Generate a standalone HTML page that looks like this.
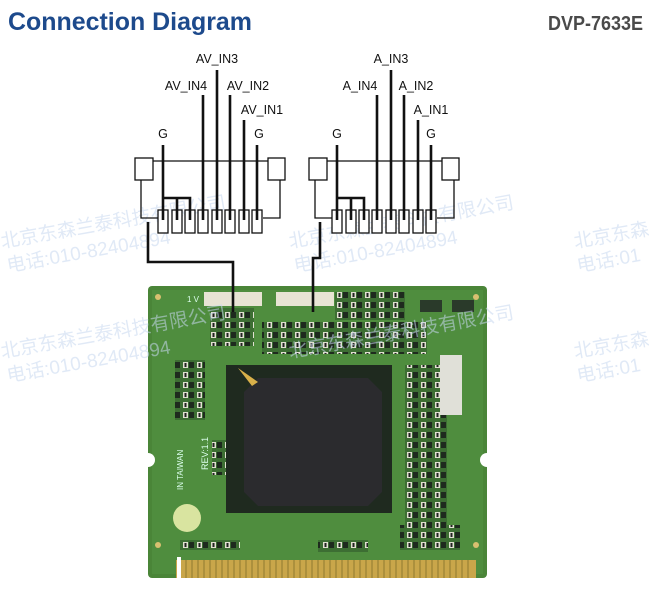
<!DOCTYPE html>
<html><head><meta charset="utf-8"><style>
html,body{margin:0;padding:0;background:#fff;width:649px;height:590px;overflow:hidden}
</style></head><body>
<svg width="649" height="590" viewBox="0 0 649 590" xmlns="http://www.w3.org/2000/svg" font-family="Liberation Sans, sans-serif">
<defs>
<pattern id="smd" width="14" height="10" patternUnits="userSpaceOnUse">
<rect width="14" height="10" fill="#3d6e33"/>
<rect x="1" y="2" width="5" height="6" fill="#e0e0d0"/><rect x="2.5" y="3" width="2" height="4" fill="#222"/>
<rect x="7" y="2" width="5" height="6" fill="#1e2a1e"/>
</pattern>
</defs>
<text x="8" y="30" font-size="25" font-weight="bold" fill="#1d4a8c" textLength="244" lengthAdjust="spacingAndGlyphs">Connection Diagram</text>
<text x="548" y="30" font-size="20" font-weight="bold" fill="#4a4a4a" textLength="95" lengthAdjust="spacingAndGlyphs">DVP-7633E</text>

<!-- board -->
<rect x="148" y="286" width="339" height="292" rx="4" fill="#4a8538"/>
<rect x="152" y="290" width="331" height="284" fill="#4f8d3e"/>
<rect x="176" y="560" width="300" height="18" fill="#c9a64a"/>
<g stroke="#8f7a30" stroke-width="1">
<path d="M180 560v18M186 560v18M192 560v18M198 560v18M204 560v18M210 560v18M216 560v18M222 560v18M228 560v18M234 560v18M240 560v18M246 560v18M252 560v18M258 560v18M264 560v18M270 560v18M276 560v18M282 560v18M288 560v18M294 560v18M300 560v18M306 560v18M312 560v18M318 560v18M324 560v18M330 560v18M336 560v18M342 560v18M348 560v18M354 560v18M360 560v18M366 560v18M372 560v18M378 560v18M384 560v18M390 560v18M396 560v18M402 560v18M408 560v18M414 560v18M420 560v18M426 560v18M432 560v18M438 560v18M444 560v18M450 560v18M456 560v18M462 560v18M468 560v18"/>
</g>
<rect x="177" y="557" width="4" height="22" fill="#fff"/>
<circle cx="148" cy="460" r="7" fill="#fff"/><circle cx="487" cy="460" r="7" fill="#fff"/>
<circle cx="158" cy="297" r="3" fill="#d9c070"/><circle cx="476" cy="297" r="3" fill="#d9c070"/>
<circle cx="158" cy="545" r="3" fill="#d9c070"/><circle cx="476" cy="545" r="3" fill="#d9c070"/>
<rect x="204" y="292" width="58" height="14" fill="#e8e4d4"/>
<rect x="276" y="292" width="58" height="14" fill="#e8e4d4"/>
<rect x="210" y="308" width="44" height="38" fill="url(#smd)"/>
<rect x="262" y="322" width="165" height="32" fill="url(#smd)"/>
<rect x="335" y="292" width="70" height="28" fill="url(#smd)"/>
<rect x="175" y="360" width="30" height="60" fill="url(#smd)"/>
<rect x="405" y="365" width="42" height="165" fill="url(#smd)"/>
<rect x="212" y="440" width="24" height="35" fill="url(#smd)"/>
<rect x="180" y="540" width="60" height="10" fill="url(#smd)"/>
<rect x="318" y="540" width="50" height="12" fill="url(#smd)"/>
<rect x="400" y="525" width="60" height="25" fill="url(#smd)"/>
<rect x="440" y="355" width="22" height="60" fill="#e0e0d8"/>
<rect x="420" y="300" width="22" height="12" fill="#2a3a2a"/><rect x="452" y="300" width="22" height="12" fill="#2a3a2a"/>
<rect x="226" y="365" width="166" height="148" fill="#1f2a1f"/>
<path d="M258 378h110l14 14v100l-14 14h-110l-14-14v-100z" fill="#2b2b2e"/>
<path d="M238 368l14 18l6-4z" fill="#d9b04a"/>
<circle cx="187" cy="518" r="14" fill="#d9e4a0"/>
<text x="208" y="470" font-size="9" fill="#dfe" transform="rotate(-90 208 470)">REV:1.1</text>
<text x="183" y="490" font-size="8" fill="#dfe" transform="rotate(-90 183 490)">IN TAIWAN</text>
<text x="187" y="302" font-size="8" fill="#dfe">1 V</text>

<!-- watermarks -->
<g fill="#c8d8f0" font-size="19" font-family="Liberation Sans, Noto Sans CJK SC, sans-serif" opacity=".55">
<text x="2" y="248" transform="rotate(-10 2 248)">北京东森兰泰科技有限公司</text>
<text x="8" y="272" transform="rotate(-10 8 272)">电话:010-82404894</text>
<text x="290" y="248" transform="rotate(-10 290 248)">北京东森兰泰科技有限公司</text>
<text x="295" y="272" transform="rotate(-10 295 272)">电话:010-82404894</text>
<text x="2" y="358" transform="rotate(-10 2 358)">北京东森兰泰科技有限公司</text>
<text x="8" y="382" transform="rotate(-10 8 382)">电话:010-82404894</text>
<text x="290" y="358" transform="rotate(-10 290 358)">北京东森兰泰科技有限公司</text>
<text x="575" y="248" transform="rotate(-10 575 248)">北京东森</text>
<text x="578" y="272" transform="rotate(-10 578 272)">电话:01</text>
<text x="575" y="358" transform="rotate(-10 575 358)">北京东森</text>
<text x="578" y="382" transform="rotate(-10 578 382)">电话:01</text>
</g>

<!-- connectors -->
<g id="c1" fill="none" stroke="#111" stroke-width="1.3">
<rect x="135" y="158" width="18" height="22" fill="#fff"/>
<rect x="268" y="158" width="17" height="22" fill="#fff"/>
<path d="M153 161H268M141 180V218H158M280 180V218H263"/>
<g fill="#fff">
<rect x="158" y="210" width="10" height="23"/><rect x="172" y="210" width="10" height="23"/>
<rect x="185" y="210" width="10" height="23"/><rect x="198" y="210" width="10" height="23"/>
<rect x="212" y="210" width="10" height="23"/><rect x="225" y="210" width="10" height="23"/>
<rect x="239" y="210" width="10" height="23"/><rect x="252" y="210" width="10" height="23"/>
</g>
<g stroke-width="2.6">
<path d="M163 145V220M163 198H190V220M177 198V220M203 95V220M217 70V220M230 95V220M244 120V220M257 145V220"/>
</g>
</g>
<use href="#c1" x="174"/>
<g font-size="12.5" fill="#111" text-anchor="middle">
<text x="217" y="63">AV_IN3</text><text x="186" y="90">AV_IN4</text><text x="248" y="90">AV_IN2</text>
<text x="262" y="114">AV_IN1</text><text x="163" y="138">G</text><text x="259" y="138">G</text>
<text x="391" y="63">A_IN3</text><text x="360" y="90">A_IN4</text><text x="416" y="90">A_IN2</text>
<text x="431" y="114">A_IN1</text><text x="337" y="138">G</text><text x="431" y="138">G</text>
</g>
<path d="M148 222V262H233V312" fill="none" stroke="#111" stroke-width="2.6"/>
<path d="M320 222V258H313V312" fill="none" stroke="#111" stroke-width="2.6"/>
</svg>
</body></html>
